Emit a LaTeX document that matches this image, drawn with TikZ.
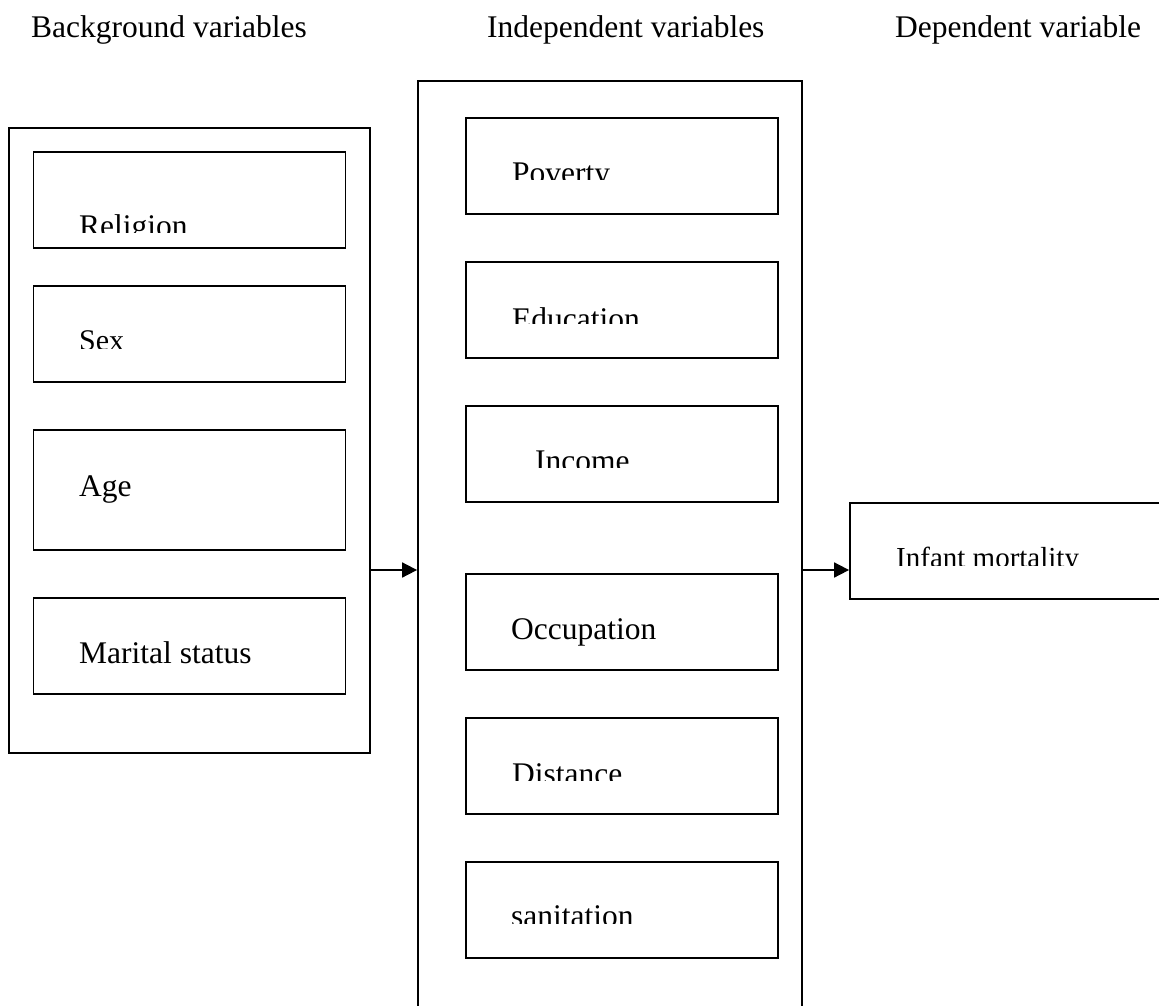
\documentclass[tikz,border=0pt]{standalone}
\usepackage{fontspec}
\setmainfont{Liberation Serif}
\usetikzlibrary{arrows.meta}

\begin{document}
\begin{tikzpicture}[
  x=1pt, y=-1pt,
  outerbox/.style={rectangle, draw, line width=1.8pt, inner sep=0pt},
  varbox/.style={rectangle, draw, line width=1.8pt, inner sep=0pt, minimum width=312pt, minimum height=96pt},
  lbl/.style={anchor=base west, inner sep=0pt, font=\fontsize{31.5}{38}\selectfont},
  arr/.style={-{Triangle[length=15pt, width=15pt]}, line width=1.8pt},
]
\useasboundingbox (0,0) rectangle (1159,1006);

% column headings
\node[lbl] (bghead)  at (31,38)  {Background variables};
\node[lbl] (indhead) at (487,38) {Independent variables};
\node[lbl] (dephead) at (895,38) {Dependent variable};

% background variables
\node[outerbox, minimum width=361pt, minimum height=625pt] (bgvars) at (189.5,440.5) {};
\node[varbox] (religion) at (189.5,200) {};
\node[varbox] (sex)      at (189.5,334) {};
\node[varbox, minimum height=120pt] (age) at (189.5,490) {};
\node[varbox] (marital)  at (189.5,646) {};

% independent variables
\node[outerbox, minimum width=384pt, minimum height=926pt] (indvars) at (610,544) {};
\node[varbox] (poverty)    at (622,166) {};
\node[varbox] (education)  at (622,310) {};
\node[varbox] (income)     at (622,454) {};
\node[varbox] (occupation) at (622,622) {};
\node[varbox] (distance)   at (622,766) {};
\node[varbox] (sanitation) at (622,910) {};

% dependent variable
\node[varbox, minimum width=320pt] (mortality) at (1010,551) {};

% labels that sit whole in their boxes
\node[lbl] (agelbl)        at (79,496)  {Age};
\node[lbl] (maritallbl)    at (79,663)  {Marital status};
\node[lbl] (occupationlbl) at (511,639) {Occupation};

% labels cut off at the bottom
\foreach \nm/\x/\y/\c/\fs/\txt in {religionlbl/79/236/232/31.5/Religion,
    sexlbl/79/350/348/30/Sex,
    povertylbl/512/183/179/31.5/Poverty,
    educationlbl/512/329/323/31.5/Education,
    incomelbl/535/471/467/31.5/Income,
    distancelbl/512/784/780/31.5/Distance,
    sanitationlbl/511/926/923/31.5/sanitation,
    mortalitylbl/896/567/565/29/Infant mortality}{
  \begin{scope}
    \clip (\x-5,\c) rectangle (\x+300,\y-40);
    \node[lbl, font=\fontsize{\fs}{38}\selectfont] (\nm) at (\x,\y) {\txt};
  \end{scope}
}

\coordinate (arrowy) at (0,570);
\draw[arr] (bgvars.east |- arrowy) -- (indvars.west |- arrowy);
\draw[arr] (indvars.east |- arrowy) -- (mortality.west |- arrowy);
\end{tikzpicture}
\end{document}
